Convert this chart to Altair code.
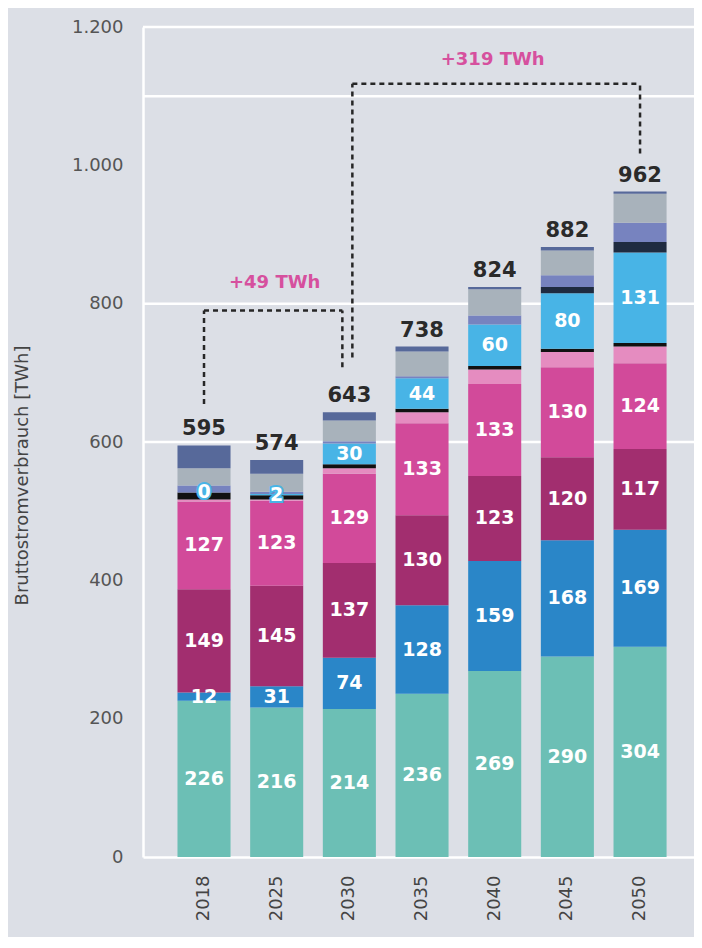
import altair as alt
import pandas as pd

years = ["2018", "2025", "2030", "2035", "2040", "2045", "2050"]
totals = [595, 574, 643, 738, 824, 882, 962]

series_names = ["Haushalte", "Elektromobilität", "Industrie", "GHD", "Netzverluste",
                "Speicher", "Wärmepumpen", "Elektrolyse", "Power-to-Heat",
                "Eigenverbrauch", "Sonstige"]
teal = [226, 216, 214, 236, 269, 290, 304]
blue = [12, 31, 74, 128, 159, 168, 169]
dmag = [149, 145, 137, 130, 123, 120, 117]
pink = [127, 123, 129, 133, 133, 130, 124]
lpink = [3, 2, 8, 16, 21, 22, 24]
black = [10, 6, 6, 5, 5, 5, 5]
lblue = [0, 2, 30, 44, 60, 80, 131]
navy = [0, 0, 0, 0, 0, 9, 15]
purple = [10, 3, 3, 3, 13, 17, 28]
gray = [25, 26, 30, 36, 38, 36, 42]
slate = [33, 20, 12, 7, 3, 5, 3]
series_values = [teal, blue, dmag, pink, lpink, black, lblue, navy, purple, gray, slate]
labeled = ["Haushalte", "Elektromobilität", "Industrie", "GHD", "Wärmepumpen"]
colors = ["#6cbfb5", "#2a86c8", "#a22e6f", "#d24a9a", "#e58cc0", "#111111",
          "#48b4e6", "#1f2b40", "#7783bf", "#a8b2bb", "#57699a"]

grid_values = [600, 800, 1100, 1200]
tick_values = [0, 200, 400, 600, 800, 1000, 1200]

# bracket annotations (TWh values)
b49_left = {"x": "2018", "y": 655, "y2": 790}
b49_right = {"x": "2030", "y": 708, "y2": 790}
b49_top = {"x": "2018", "x2": "2030", "y": 790}
b319_left = {"x": "2030", "y": 722, "y2": 1118}
b319_right = {"x": "2050", "y": 1017, "y2": 1118}
b319_top = {"x": "2030", "x2": "2050", "y": 1118}
notes = [{"x": "2025", "y": 830, "t": "+49 TWh"}, {"x": "2040", "y": 1152, "t": "+319 TWh"}]

rows = []
for k, (name, vals) in enumerate(zip(series_names, series_values)):
    for yr, v in zip(years, vals):
        rows.append({"year": yr, "series": name, "value": v, "order": k,
                     "lab": name in labeled, "small": name in labeled and v < 5})
df = pd.DataFrame(rows)
tot_df = pd.DataFrame({"year": years, "total": totals})

BG = "#dcdfe6"
FONT = "DejaVu Sans"

xscale = alt.Scale(domain=years, paddingInner=0.27, paddingOuter=0.426, align=0.557)
yscale = alt.Scale(domain=[0, 1200], nice=False, zero=True)

xaxis = alt.Axis(labelAngle=270, title=None)
yaxis = alt.Axis(values=tick_values, labelExpr="replace(format(datum.value, ','), ',', '.')",
                 title="Bruttostromverbrauch [TWh]")

grid = alt.Chart(pd.DataFrame({"g": grid_values})).mark_rule(color="white", strokeWidth=2.5).encode(
    y=alt.Y("g:Q", scale=yscale, axis=yaxis)
)

bars = alt.Chart(df).mark_bar().encode(
    x=alt.X("year:N", scale=xscale, axis=xaxis, sort=years),
    y=alt.Y("value:Q", stack="zero", scale=yscale, axis=yaxis),
    color=alt.Color("series:N", scale=alt.Scale(domain=series_names, range=colors), legend=None),
    order=alt.Order("order:Q", sort="ascending"),
)

stacked = alt.Chart(df).transform_stack(
    stack="value", as_=["v0", "v1"], groupby=["year"], sort=[alt.SortField("order", order="ascending")]
).transform_calculate(mid="(datum.v0 + datum.v1) / 2")

def enc_mid(c):
    return c.encode(x=alt.X("year:N", scale=xscale, sort=years, axis=xaxis),
                    y=alt.Y("mid:Q", scale=yscale, axis=yaxis), text="value:Q")

seg_text = enc_mid(stacked.transform_filter("datum.lab").mark_text(
    color="white", fontWeight="bold", fontSize=19, font=FONT, baseline="middle"))
small_halo = enc_mid(stacked.transform_filter("datum.small").mark_text(
    color="#48b4e6", stroke="#48b4e6", strokeWidth=4, fontWeight="bold", fontSize=19,
    font=FONT, baseline="middle"))
small_text = enc_mid(stacked.transform_filter("datum.small").mark_text(
    color="white", fontWeight="bold", fontSize=19, font=FONT, baseline="middle"))

tot_text = alt.Chart(tot_df).mark_text(
    color="#2a2a2a", fontWeight="bold", fontSize=21, font=FONT, baseline="bottom", dy=-6
).encode(x=alt.X("year:N", scale=xscale, sort=years, axis=xaxis),
         y=alt.Y("total:Q", scale=yscale, axis=yaxis), text="total:Q")

DASH = dict(color="#262626", strokeWidth=2.5, strokeDash=[5, 4])

def vrule(d, off=0):
    return alt.Chart(pd.DataFrame([d])).mark_rule(xOffset=off, **DASH).encode(
        x=alt.X("x:N", scale=xscale, sort=years, axis=xaxis),
        y=alt.Y("y:Q", scale=yscale, axis=yaxis), y2="y2:Q")

def hrule(d, off1=0, off2=0):
    return alt.Chart(pd.DataFrame([d])).mark_rule(xOffset=off1, x2Offset=off2, **DASH).encode(
        x=alt.X("x:N", scale=xscale, sort=years, axis=xaxis), x2="x2:N",
        y=alt.Y("y:Q", scale=yscale, axis=yaxis))

note_text = alt.Chart(pd.DataFrame(notes)).mark_text(
    color="#d6509e", fontWeight="bold", fontSize=18, font=FONT, dx=-2
).encode(x=alt.X("x:N", scale=xscale, sort=years, axis=xaxis),
         y=alt.Y("y:Q", scale=yscale, axis=yaxis), text="t:N")

chart = alt.layer(
    grid, bars, seg_text, small_halo, small_text, tot_text,
    vrule(b49_left), vrule(b49_right, -7), hrule(b49_top, 0, -7),
    vrule(b319_left, 3), vrule(b319_right), hrule(b319_top, 3, 0),
    note_text,
).properties(
    width=551, height=830,
    padding={"left": 135, "top": 19, "right": 0, "bottom": 80},
    autosize=alt.AutoSizeParams(type="none"),
    background=BG,
).configure_view(
    fill=BG, strokeWidth=0
).configure_axisX(
    labelFontSize=18, labelColor="#444", labelFont=FONT, labelPadding=18,
    ticks=False, domainColor="white", domainWidth=2.5, grid=False
).configure_axisY(
    labelFontSize=18, labelColor="#555", labelFont=FONT, labelPadding=20,
    ticks=False, grid=False, domainColor="white", domainWidth=2.5,
    titleFont=FONT, titleFontSize=18, titleFontWeight="normal", titleColor="#444",
    titleX=-121, titleY=448, titleAngle=270, titleAlign="center", titleBaseline="middle"
)

chart.save("out.html", embed_options={"renderer": "svg", "actions": False})
